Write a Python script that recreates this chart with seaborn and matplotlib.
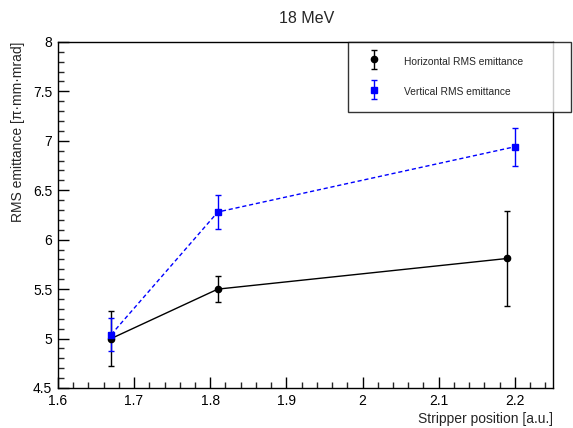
import numpy as np
import pandas as pd
import matplotlib
matplotlib.use("Agg")
import matplotlib.pyplot as plt
from matplotlib.ticker import MultipleLocator, FuncFormatter
from matplotlib.legend_handler import HandlerErrorbar
from matplotlib.container import ErrorbarContainer
import seaborn as sns

# Emittance measurements at 18 MeV versus stripper position
h_pos = [1.67, 1.81, 2.19]
h_rms = [5.00, 5.50, 5.81]
h_err = [0.28, 0.13, 0.48]

v_pos = [1.67, 1.81, 2.20]
v_rms = [5.04, 6.28, 6.94]
v_err = [0.17, 0.17, 0.19]

sns.set_theme(style="white")
plt.rcParams["font.family"] = ["Liberation Sans", "DejaVu Sans"]

fig = plt.figure(figsize=(5.73, 4.28), dpi=100)
ax = fig.add_axes([0.101, 0.0935, 0.864, 0.8085])

df_h = pd.DataFrame({"pos": h_pos, "rms": h_rms})
df_v = pd.DataFrame({"pos": v_pos, "rms": v_rms})

sns.lineplot(data=df_h, x="pos", y="rms", ax=ax, color="black", lw=1.0,
             marker="o", markersize=4.5, markeredgewidth=0, sort=False)
sns.lineplot(data=df_v, x="pos", y="rms", ax=ax, color="#0000ff", lw=1.0,
             linestyle=(0, (3, 2)), marker="s", markersize=4.5,
             markeredgewidth=0, sort=False)

ax.errorbar(h_pos, h_rms, yerr=h_err, fmt="o", color="black", ms=4.5,
            elinewidth=1.0, capsize=2.5, capthick=1.0,
            label="Horizontal RMS emittance")
ax.errorbar(v_pos, v_rms, yerr=v_err, fmt="s", color="#0000ff", ms=4.5,
            elinewidth=1.0, capsize=2.5, capthick=1.0,
            label="Vertical RMS emittance")

ax.set_xlim(1.6, 2.25)
ax.set_ylim(4.5, 8.0)
ax.xaxis.set_major_locator(MultipleLocator(0.1))
ax.xaxis.set_minor_locator(MultipleLocator(0.02))
ax.yaxis.set_major_locator(MultipleLocator(0.5))
ax.yaxis.set_minor_locator(MultipleLocator(0.1))
ax.xaxis.set_major_formatter(FuncFormatter(lambda v, p: f"{v:g}"))
ax.yaxis.set_major_formatter(FuncFormatter(lambda v, p: f"{v:g}"))

ax.tick_params(axis="both", which="major", direction="in", length=8, width=1,
               labelsize=10, colors="black", pad=4)
ax.tick_params(axis="both", which="minor", direction="in", length=4, width=1)
ax.tick_params(axis="x", which="both", bottom=True, top=False)
ax.tick_params(axis="y", which="both", left=True, right=False)

for s in ax.spines.values():
    s.set_color("black")
    s.set_linewidth(1.0)

ax.set_xlabel("Stripper position [a.u.]", loc="right", fontsize=10, labelpad=3)
ax.set_ylabel("RMS emittance [π·mm·mrad]", loc="top", fontsize=10, labelpad=6)
fig.suptitle("18 MeV", x=0.535, y=0.975, fontsize=11.5)

leg = fig.legend(loc="upper left", bbox_to_anchor=(0.607, 0.743, 0.39, 0.159),
                 bbox_transform=fig.transFigure, mode="expand",
                 fontsize=7.4, frameon=True, fancybox=False, borderpad=1.15,
                 labelspacing=1.4, handletextpad=1.5, handlelength=2.8,
                 handleheight=2.0, borderaxespad=0,
                 handler_map={ErrorbarContainer: HandlerErrorbar(xerr_size=0.33,
                                                                 yerr_size=0.95)})
leg.get_frame().set_edgecolor("black")
leg.get_frame().set_linewidth(1.0)

fig.savefig("out.png", dpi=100)
